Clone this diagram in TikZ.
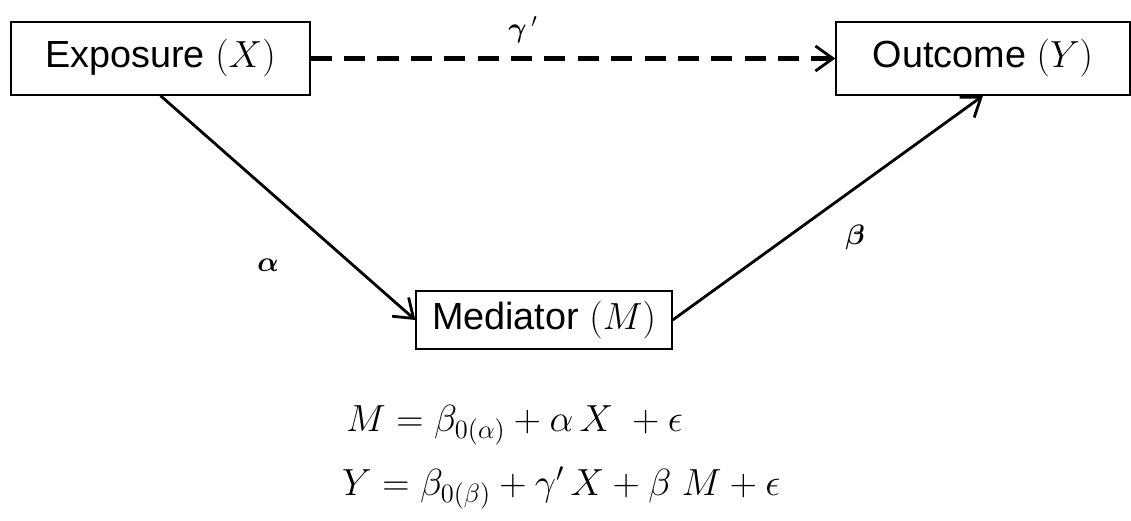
\documentclass[tikz,border=0pt]{standalone}
\usepackage{fix-cm}
\usepackage{amsmath}
\usepackage{bm}
\usepackage{fontspec}
\setmainfont{Liberation Sans}
\usetikzlibrary{arrows.meta, positioning}

\tikzset{
  boite/.style={draw, thick, minimum height=1.46cm, inner sep=0pt, font=\fontsize{21.5}{26}\selectfont},
  fleche/.style={line width=1.6pt, -{Straight Barb[length=3.5mm, width=5mm, line width=1.6pt]}},
  coef/.style={font=\fontsize{16}{19}\selectfont},
  equa/.style={anchor=west, font=\fontsize{21.5}{26}\selectfont}
}

\begin{document}
\begin{tikzpicture}[x=0.02cm, y=-0.02cm]
    \useasboundingbox (0,0) rectangle (1131,520);
    \node[boite, minimum width=5.98cm] (expo) at (160.5,58.5) {Exposure $(X)$};
    \node[boite, minimum width=5.88cm] (resu) at (983,58.5) {Outcome $(Y)$};
    \node[boite, minimum width=5.12cm, minimum height=1.16cm] (medi) at (544,320) {Mediator $(M)$};
    \draw[fleche, line width=2.6pt, dash pattern=on 12pt off 7pt] (expo) -- (resu);
    \draw[fleche] (expo.south) -- (medi.west);
    \draw[fleche] (medi.east) -- (resu.south);
    \node[coef] (gamma) at (523,30) {$\bm{\gamma}\,'$};
    \node[coef] (alpha) at (268,265) {$\bm{\alpha}$};
    \node[coef] (beta) at (855,237) {$\bm{\beta}$};
    \node[equa] (eqm) at (340,425) {$M = \beta_{0(\alpha)} + \alpha\, X\ + \epsilon$};
    \node[equa] (eqy) at (336,488) {$Y = \beta_{0(\beta)} + \gamma'\, X + \beta\ M + \epsilon$};
  \end{tikzpicture}
\end{document}
